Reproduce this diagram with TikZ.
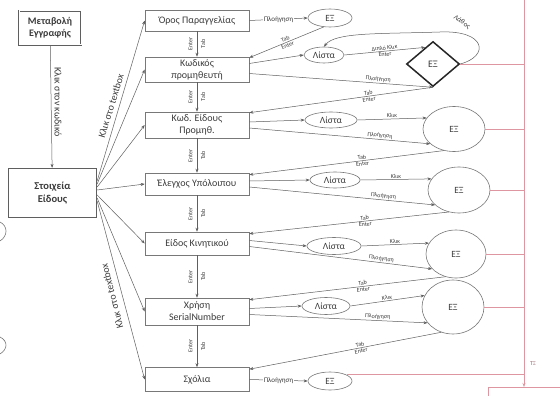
\documentclass[tikz,border=0pt]{standalone}
\usepackage{fontspec}
\setmainfont{Carlito}
\usetikzlibrary{shapes.geometric,arrows.meta,calc}
\definecolor{lncol}{RGB}{95,95,95}
\definecolor{boxcol}{RGB}{120,120,120}
\definecolor{txtcol}{RGB}{60,60,60}
\definecolor{redcol}{RGB}{222,150,160}
\begin{document}
\begin{tikzpicture}[x=1pt,y=-1pt,
  line/.style={draw=lncol, line width=0.5pt},
  arr/.style={line, -{Stealth[length=4pt,width=3pt]}},
  field/.style={draw=boxcol, line width=0.6pt, text=txtcol, minimum width=104pt,
    align=center, inner sep=1pt, font=\fontsize{10}{12}\selectfont},
  oval/.style={ellipse, draw=boxcol, line width=0.6pt, inner sep=0pt, text=txtcol,
    font=\fontsize{9.5}{11}\selectfont},
  tag/.style={font=\fontsize{6}{7}\selectfont, text=txtcol, inner sep=1pt},
  bigtag/.style={font=\fontsize{10}{12}\selectfont, text=txtcol, inner sep=1pt},
  redline/.style={draw=redcol, line width=0.8pt},
]
\fill[white] (0,0) rectangle (560,396);
\useasboundingbox (0,0) rectangle (560,396);

% left column
\node[draw=lncol, double, double distance=1pt, line width=0.7pt, minimum width=62pt,
  minimum height=34pt, align=center, text=txtcol, font=\bfseries\fontsize{10}{12}\selectfont]
  (chg) at (50,28) {Μεταβολή\\Εγγραφής};
\node[draw=lncol, line width=1.3pt, minimum width=88pt, minimum height=49pt, align=center,
  text=txtcol, font=\bfseries\fontsize{10.5}{13}\selectfont] (st) at (52.5,193) {Στοιχεία\\Είδους};
\draw[arr] (chg) -- (st);
\node[bigtag, rotate=-90] (kk) at (58,102) {Κλικ στον κωδικό};

% field boxes
\node[field, minimum height=21pt] (b1) at (197,20.5) {Όρος Παραγγελίας};
\node[field, minimum height=25pt] (b2) at (197,69.5) {Κωδικός\\προμηθευτή};
\node[field, minimum height=26pt] (b3) at (197,125) {Κωδ. Είδους\\Προμηθ.};
\node[field, minimum height=22pt] (b4) at (197,184) {Έλεγχος Υπόλοιπου};
\node[field, minimum height=23pt] (b5) at (197,243.5) {Είδος Κινητικού};
\node[field, minimum height=27pt] (b6) at (197,311.5) {Χρήση\\SerialNumber};
\node[field, minimum height=24pt] (b7) at (197,379.5) {Σχόλια};

% fan from the item panel
\draw[arr] ($(st.east)+(0,-12)$) -- (b1.west);
\draw[arr] ($(st.east)+(0,-9)$) -- (b2.west);
\draw[arr] ($(st.east)+(0,-6)$) -- (b3.west);
\draw[arr] ($(st.east)+(0,-3)$) -- (b4.west);
\draw[arr] ($(st.east)+(0,2)$) -- (b5.west);
\draw[arr] ($(st.east)+(0,5)$) -- (b6.west);
\draw[arr] ($(st.east)+(0,8)$) -- (b7.west);
\node[bigtag, rotate=73] (t1) at (111,106) {Κλικ στο textbox};
\node[bigtag, rotate=104] (t2) at (112,296) {Κλικ στο textbox};

% downward steps
\foreach \a/\b in {b1/b2,b2/b3,b3/b4,b4/b5,b5/b6,b6/b7}{
  \draw[arr] (\a) -- node[tag, xshift=-6.5pt, rotate=90]{Enter}
                     node[tag, xshift=6pt, rotate=90]{Tab} (\b);
}

% right side shapes
\node[oval, minimum width=44pt, minimum height=18pt] (e1) at (330,18) {ΕΞ};
\node[oval, minimum width=40pt, minimum height=16pt] (l2) at (324,55) {Λίστα};
\node[diamond, draw=black!85, line width=1.5pt, minimum width=53pt, minimum height=45pt,
  inner sep=0pt, text=txtcol, font=\fontsize{10}{12}\selectfont] (d2) at (433,64) {ΕΞ};
\node[oval, minimum width=52pt, minimum height=16pt] (l3) at (331,120) {Λίστα};
\node[oval, minimum width=62pt, minimum height=45pt] (c3) at (454,129) {ΕΞ};
\node[oval, minimum width=50pt, minimum height=16pt] (l4) at (335,180) {Λίστα};
\node[oval, minimum width=62pt, minimum height=46pt] (c4) at (459,190) {ΕΞ};
\node[oval, minimum width=54pt, minimum height=17pt] (l5) at (334,246) {Λίστα};
\node[oval, minimum width=60pt, minimum height=48pt] (c5) at (456,254) {ΕΞ};
\node[oval, minimum width=48pt, minimum height=17pt] (l6) at (326,306) {Λίστα};
\node[oval, minimum width=62pt, minimum height=54pt] (c6) at (453,307) {ΕΞ};
\node[oval, minimum width=44pt, minimum height=18pt] (e7) at (330,381) {ΕΞ};

% row 1
\draw[arr] (b1.east) -- node[tag, fill=white, font=\fontsize{7}{8}\selectfont]{Πλοήγηση} (e1.west);
\draw[arr] (e1.235) -- node[tag, above, sloped]{Tab} node[tag, below, sloped]{Enter}
  ($(b2.north east)+(0,1)$);

% row 2
\draw[arr] ($(b2.east)+(0,-6)$) -- (l2.west);
\draw[arr] (l2.east) -- node[tag, above, sloped]{Διπλό Κλικ} node[tag, below, sloped]{Enter} (d2.115);
\draw[arr] ($(b2.east)+(0,4)$) -- node[tag, above, sloped, pos=0.7]{Πλοήγηση} (d2.south);
\draw[arr] (d2.east) .. controls (490,56) and (486,30) .. (440,32)
  .. controls (380,34) and (335,32) .. (l2.north);
\node[tag, rotate=-35, font=\fontsize{7}{8}\selectfont] (err) at (462,22) {Λάθος};
\draw[arr] (d2.south) -- node[tag, above, sloped, pos=0.35]{Tab} node[tag, below, sloped, pos=0.35]{Enter}
  ($(b3.north east)+(0,1)$);

% rows 3 to 6
\foreach \b/\l/\c/\n in {b3/l3/c3/b4, b4/l4/c4/b5, b5/l5/c5/b6, b6/l6/c6/b7}{
  \draw[arr] ($(\b.east)+(0,-3)$) -- (\l.west);
  \draw[arr] (\l.east) -- node[tag, above, sloped]{Κλικ} (\c.158);
  \draw[arr] ($(\b.east)+(0,3)$) -- node[tag, above, sloped, pos=0.72]{Πλοήγηση} (\c.212);
  \draw[arr] (\c.245) -- node[tag, above, sloped, pos=0.42]{Tab} node[tag, below, sloped, pos=0.42]{Enter}
    ($(\n.north east)+(0,2)$);
}

% row 7
\draw[arr] (b7.east) -- node[tag, fill=white, font=\fontsize{7}{8}\selectfont]{Πλοήγηση} (e7.west);

% exits to the save step
\coordinate (rtop) at (524,0);
\node[draw=redcol, line width=0.8pt, minimum width=90pt, minimum height=20pt, anchor=north west]
  (sv) at (488,387) {};
\draw[redline, -{Stealth[length=4pt,width=3pt]}] (rtop) -- (rtop |- sv.north);
\foreach \s in {d2.east, c3.east, c4.east, c5.east, c6.east, e7.20}{
  \draw[redline] (\s) -- (\s -| rtop);
}
\node[tag, text=redcol!70!black] (tx) at (533,364) {ΤΞ};

% shapes cut by the left edge
\draw[boxcol, line width=0.6pt] (0,222) .. controls (8,226) and (8,236) .. (0,241);
\draw[boxcol, line width=0.6pt] (0,337) .. controls (8,341) and (8,349) .. (0,354);
\end{tikzpicture}
\end{document}
